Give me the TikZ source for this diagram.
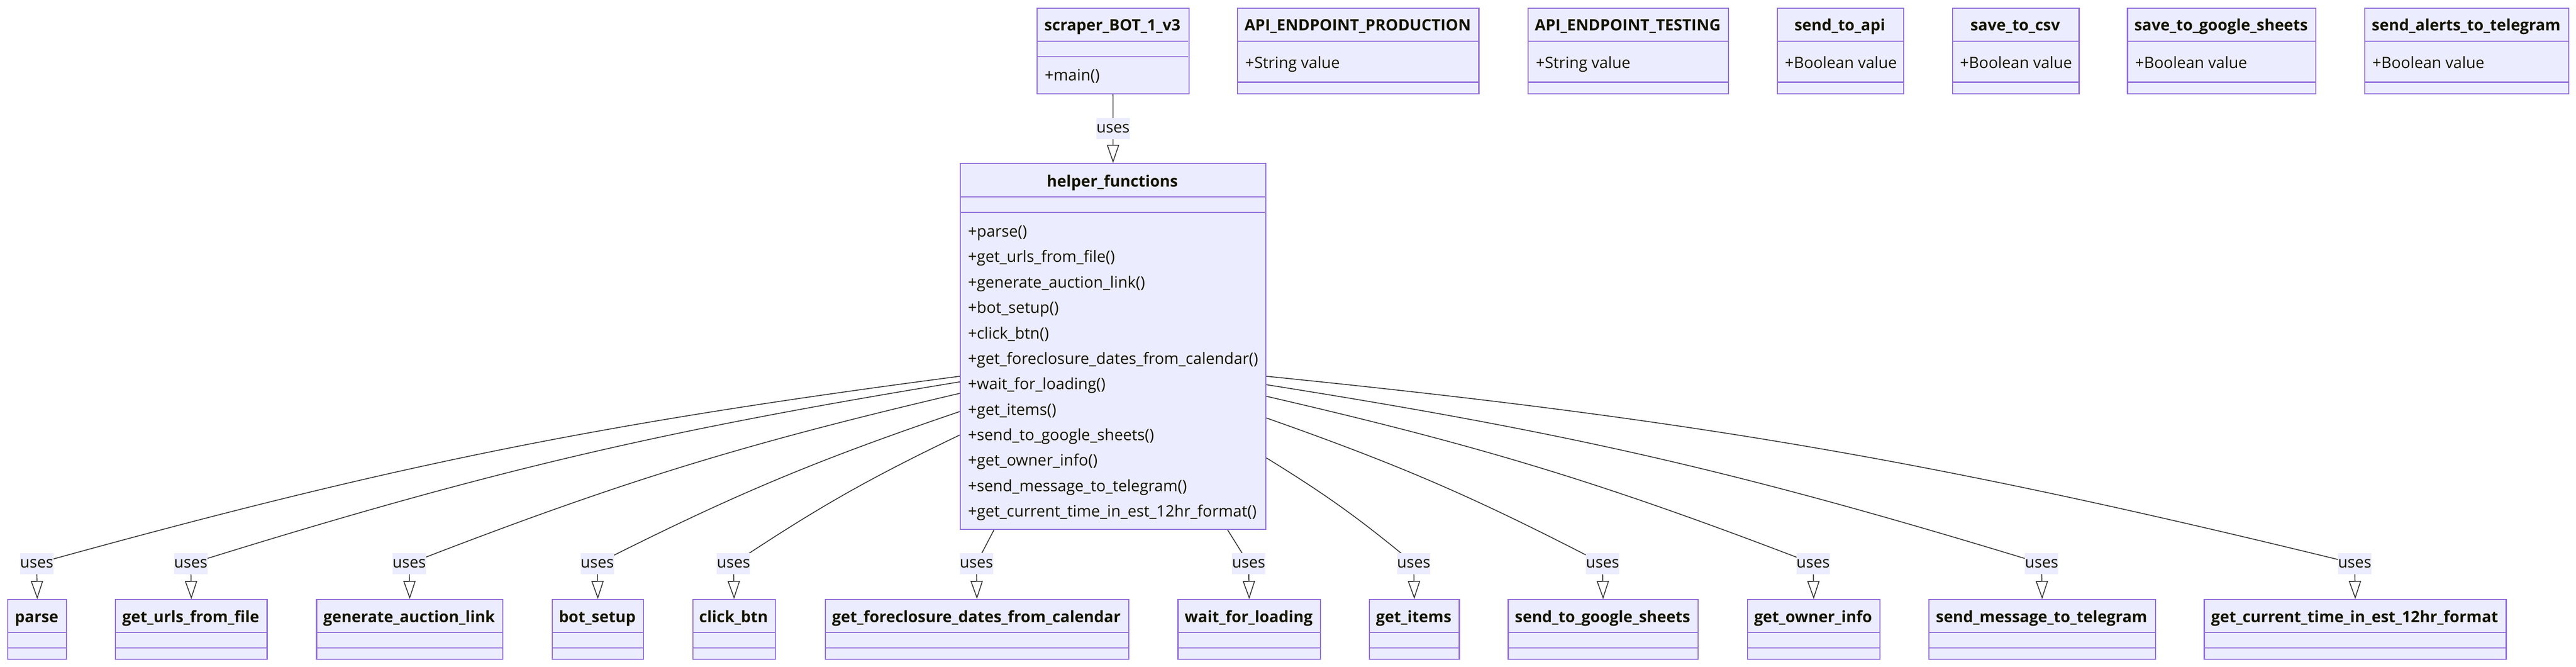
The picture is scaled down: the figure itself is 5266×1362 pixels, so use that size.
\documentclass[tikz,border=0pt]{standalone}
\usepackage{fontspec}
\setmainfont{Open Sans}
\usetikzlibrary{arrows.meta,positioning,calc}

\definecolor{clsfill}{HTML}{ECECFF}
\definecolor{clsline}{HTML}{9370DB}
\definecolor{clstext}{HTML}{131300}
\definecolor{edgecol}{HTML}{333333}

\tikzset{
  classbox/.style={draw=clsline, fill=clsfill, line width=0.65pt, inner sep=0pt, anchor=north west},
  divider/.style={draw=clsline, line width=0.65pt},
  ctitle/.style={font=\fontsize{9.1pt}{11pt}\selectfont\bfseries, text=clstext, anchor=base, inner sep=0pt},
  member/.style={font=\fontsize{9.1pt}{11pt}\selectfont, text=clstext, anchor=base west, inner sep=0pt},
  useslabel/.style={fill=clsfill, text=clstext, font=\fontsize{9.1pt}{11pt}\selectfont,
    minimum width=0.68cm, minimum height=0.43cm, inner sep=0pt},
  uses/.style={draw=edgecol, line width=0.5pt, -{Triangle[open, length=0.37cm, width=0.25cm]}},
}

\begin{document}
\begin{tikzpicture}[x=0.01cm, y=-0.01cm]
  \useasboundingbox (0,0) rectangle (5266,1362);

  % main script
  \node[classbox, minimum width=3.1cm, minimum height=1.74cm] (bot) at (2119,16) {};
  \draw[divider] (2119,84) -- (2429,84);
  \draw[divider] (2119,116) -- (2429,116);
  \node[ctitle] at (2274,63) {scraper\_BOT\_1\_v3};
  \node[member] at (2135,165) {+main()};

  % settings
  \foreach \nm/\xa/\xb/\txt/\attr in {
      prod/2529/3022/API\_ENDPOINT\_PRODUCTION/+String value,
      test/3123/3532/API\_ENDPOINT\_TESTING/+String value,
      api/3632/3890/send\_to\_api/+Boolean value,
      csv/3990/4249/save\_to\_csv/+Boolean value,
      gsheet/4348/4733/save\_to\_google\_sheets/+Boolean value,
      alert/4833/5250/send\_alerts\_to\_telegram/+Boolean value}{
    \node[classbox, minimum width={(\xb-\xa)*0.01cm}, minimum height=1.74cm] (\nm) at (\xa,16) {};
    \draw[divider] (\xa,84) -- (\xb,84);
    \draw[divider] (\xa,168) -- (\xb,168);
    \node[ctitle] at ({(\xa+\xb)/2},63) {\txt};
    \node[member] at ({\xa+16},140) {\attr};
  }

  % helper module
  \node[classbox, minimum width=6.24cm, minimum height=7.47cm] (hf) at (1962,333) {};
  \draw[divider] (1962,402) -- (2586,402);
  \draw[divider] (1962,434) -- (2586,434);
  \node[ctitle] at (2274,382) {helper\_functions};
  \foreach \m [count=\i from 0] in {parse, get\_urls\_from\_file, generate\_auction\_link,
      bot\_setup, click\_btn, get\_foreclosure\_dates\_from\_calendar, wait\_for\_loading,
      get\_items, send\_to\_google\_sheets, get\_owner\_info, send\_message\_to\_telegram,
      get\_current\_time\_in\_est\_12hr\_format}
    \node[member] (m\i) at (1978,{484+52*\i}) {+\m()};

  \draw[uses] (bot.south) -- node[useslabel] {uses} (hf.north);

  % functions
  \foreach \nm/\xa/\xb/\txt/\ang/\bnd in {
      parse/15/135/parse/191.7/-4,
      urls/235/545/get\_urls\_from\_file/193.6/-4,
      link/646/1027/generate\_auction\_link/197.4/-4,
      setup/1128/1314/bot\_setup/203.0/-4,
      click/1415/1584/click\_btn/210.0/-4,
      dates/1686/2306/get\_foreclosure\_dates\_from\_calendar/237.9/0,
      wait/2407/2698/wait\_for\_loading/302.0/0,
      items/2798/2982/get\_items/324.0/4,
      sheets/3082/3470/send\_to\_google\_sheets/335.9/4,
      owner/3571/3842/get\_owner\_info/342.8/4,
      msg/3942/4405/send\_message\_to\_telegram/346.7/4,
      time/4505/5122/get\_current\_time\_in\_est\_12hr\_format/349.9/4}{
    \node[classbox, minimum width={(\xb-\xa)*0.01cm}, minimum height=1.22cm] (\nm) at (\xa,1224) {};
    \draw[divider] (\xa,1292) -- (\xb,1292);
    \draw[divider] (\xa,1324) -- (\xb,1324);
    \node[ctitle] at ({(\xa+\xb)/2},1272) {\txt};
    \draw[uses] (hf.\ang) to[bend left=\bnd] ({(\xa+\xb)/2},1151.5) node[useslabel] (l\nm) {uses} -- (\nm.north);
  }
\end{tikzpicture}
\end{document}
